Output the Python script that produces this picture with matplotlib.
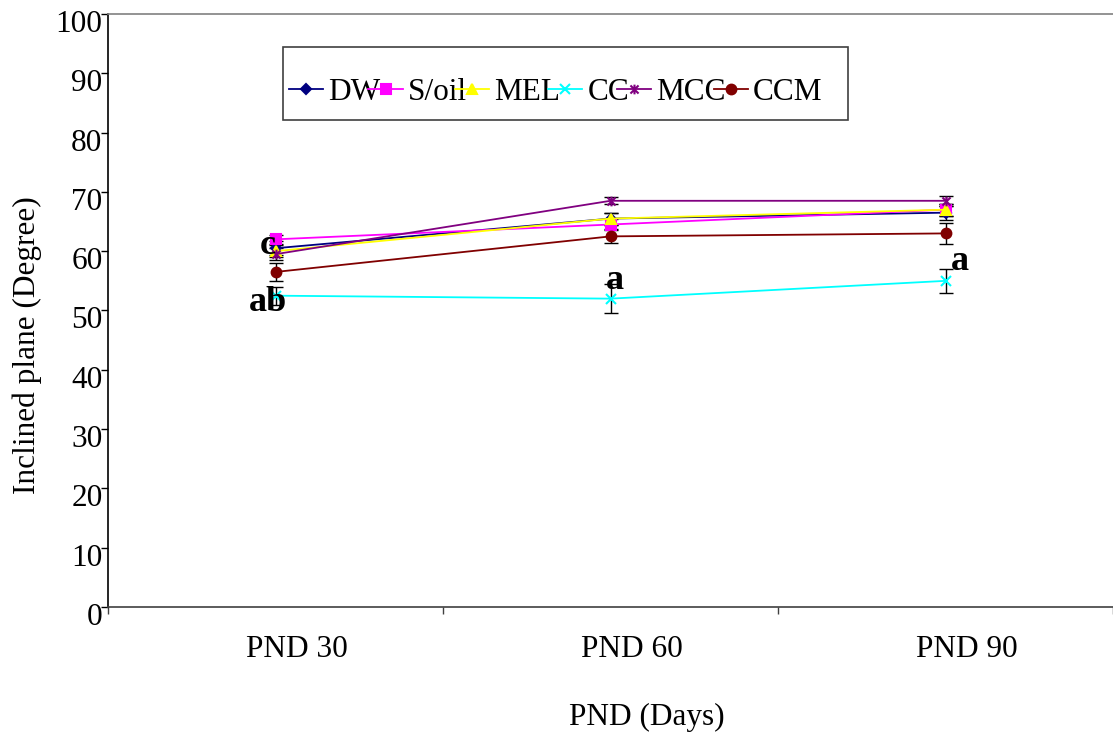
import matplotlib
matplotlib.use("Agg")
import matplotlib.pyplot as plt
import matplotlib.transforms as mtransforms
from matplotlib.path import Path
from matplotlib.patches import Rectangle
import numpy as np

plt.rcParams["font.family"] = ["Liberation Serif", "DejaVu Serif"]

categories = ["PND 30", "PND 60", "PND 90"]
groups = ["DW", "S/oil", "MEL", "CC", "MCC", "CCM"]

dw = [60.5, 65.5, 66.5]
soil = [62.0, 64.5, 67.0]
mel = [60.0, 65.5, 67.0]
cc = [52.5, 52.0, 55.0]
mcc = [59.5, 68.5, 68.5]
ccm = [56.5, 62.5, 63.0]

dw_err = [1.2, 1.0, 1.2]
soil_err = [0.8, 1.0, 1.0]
mel_err = [1.0, 1.0, 1.0]
cc_err = [1.5, 2.5, 2.0]
mcc_err = [1.0, 0.6, 0.8]
ccm_err = [1.5, 1.2, 1.8]

# significance letters: (category index, value, text)
sig_letters = [(0, 61.0, "c"), (0, 51.3, "ab"), (1, 55.1, "a"), (2, 58.2, "a")]

# asterisk marker: an x crossed by a vertical bar
star_path = Path(
    [(-1, -1), (1, 1), (-1, 1), (1, -1), (0, -1.2), (0, 1.2)],
    [Path.MOVETO, Path.LINETO, Path.MOVETO, Path.LINETO, Path.MOVETO, Path.LINETO],
)

series = [
    (dw, dw_err, "#000080", "D", 5),
    (soil, soil_err, "#FF00FF", "s", 7),
    (mel, mel_err, "#FFFF00", "^", 7),
    (cc, cc_err, "#00FFFF", "x", 7),
    (mcc, mcc_err, "#800080", star_path, 7),
    (ccm, ccm_err, "#800000", "o", 7),
]

FS = 22.5
W, H = 1113, 736
fig = plt.figure(figsize=(W / 100, H / 100), dpi=100)
ax = fig.add_axes([108 / W, 1 - 607 / H, 1 - 108 / W, (607 - 14) / H])

x = np.arange(len(categories))
handles = []
for (vals, errs, color, marker, ms), name in zip(series, groups):
    ax.errorbar(x, vals, yerr=errs, fmt="none", ecolor="black", elinewidth=1.0,
                capsize=5, capthick=1.0, zorder=2)
    (h,) = ax.plot(x, vals, color=color, lw=1.3, marker=marker, ms=ms,
                   mfc=color, mec=color, mew=1.5, zorder=3, label=name)
    handles.append(h)

# letters sit beside their points, shifted by a few pixels
letter_dx = [-8, -8, 4, 14]
for (ci, yv, txt), dx in zip(sig_letters, letter_dx):
    t = ax.text(x[ci], yv, txt, fontsize=26, fontweight="bold", ha="center",
                va="center", zorder=4)
    t.set_transform(t.get_transform() + mtransforms.ScaledTranslation(dx / 100, 0, fig.dpi_scale_trans))

ax.set_xlim(-0.5, 2.5)
ax.set_ylim(0, 100)
ax.set_yticks(range(0, 101, 10))
ax.set_xticks(x)
ax.set_xticklabels(categories)
ax.set_xticks([-0.5, 0.5, 1.5, 2.5], minor=True)

ax.tick_params(axis="y", direction="out", length=5, width=1, labelsize=FS, pad=-1)
ax.tick_params(axis="x", which="major", length=0, labelsize=FS, pad=20)
ax.tick_params(axis="x", which="minor", direction="out", length=5, width=1, color="#404040")

down = mtransforms.ScaledTranslation(0, -7 / 100, fig.dpi_scale_trans)
for lab in ax.get_yticklabels():
    lab.set_transform(lab.get_transform() + down)
right = mtransforms.ScaledTranslation(21 / 100, 0, fig.dpi_scale_trans)
for lab in ax.get_xticklabels():
    lab.set_transform(lab.get_transform() + right)

ax.spines["right"].set_visible(False)
ax.spines["top"].set_color("#808080")
ax.spines["bottom"].set_color("#404040")
ax.spines["left"].set_color("black")
for s in ax.spines.values():
    s.set_linewidth(1.2)

fig.text(647 / W, 1 - 717 / H, "PND (Days)", fontsize=FS, ha="center", va="center")
fig.text(27 / W, 1 - 345 / H, "Inclined plane (Degree)", fontsize=FS, ha="center",
         va="center", rotation=90)

fig.patches.append(Rectangle((283 / W, 1 - 120 / H), (848 - 283) / W, (120 - 47) / H,
                             transform=fig.transFigure, fill=True, facecolor="white",
                             edgecolor="#404040", lw=1.2, zorder=5))
fig.legend(handles=handles, labels=groups, loc="center left",
           bbox_to_anchor=(289 / W, 1 - 92 / H), ncol=6, frameon=False,
           fontsize=FS, handlelength=1.1, handletextpad=0.16, columnspacing=-0.39,
           borderpad=0, borderaxespad=0)

fig.savefig("out.png", dpi=100)
